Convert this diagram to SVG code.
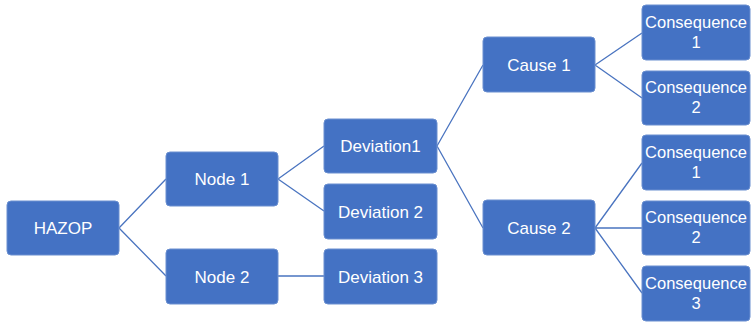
<svg xmlns="http://www.w3.org/2000/svg" width="752" height="322" viewBox="0 0 752 322">
<style>
.box{fill:#4472C4;stroke:#6a8fd0;stroke-width:1}
.t{font-family:"Liberation Sans",Arial,sans-serif;font-size:17px;fill:#fff;text-anchor:middle}
.s{font-size:16.5px}
.c{stroke:#4a74c0;stroke-width:1.3;fill:none}
</style>
<rect width="752" height="322" fill="#fff"/>
<g id="connectors">
<path class="c" d="M119,228 L166,179 M119,228 L166,276"/>
<path class="c" d="M278,179 L324,146 M278,179 L324,211 M278,276 L324,276"/>
<path class="c" d="M437,146 L483,65 M437,146 L483,228"/>
<path class="c" d="M595,65 L642,33 M595,65 L642,98"/>
<path class="c" d="M595,228 L642,163 M595,228 L642,228 M595,228 L642,293"/>
</g>
<g id="hazop"><rect class="box" x="7" y="201" width="112" height="54" rx="4"/><text class="t" x="63" y="234">HAZOP</text></g>
<g id="node1"><rect class="box" x="166" y="152" width="112" height="54" rx="4"/><text class="t" x="222" y="185">Node 1</text></g>
<g id="node2"><rect class="box" x="166" y="249" width="112" height="55" rx="4"/><text class="t" x="222" y="282.5">Node 2</text></g>
<g id="deviation1"><rect class="box" x="324" y="119" width="113" height="54" rx="4"/><text class="t" x="380.5" y="152">Deviation1</text></g>
<g id="deviation2"><rect class="box" x="324" y="184" width="113" height="55" rx="4"/><text class="t" x="380.5" y="217.5">Deviation 2</text></g>
<g id="deviation3"><rect class="box" x="324" y="249" width="113" height="55" rx="4"/><text class="t" x="380.5" y="282.5">Deviation 3</text></g>
<g id="cause1"><rect class="box" x="483" y="37" width="112" height="55" rx="4"/><text class="t" x="539" y="70.5">Cause 1</text></g>
<g id="cause2"><rect class="box" x="483" y="200" width="112" height="55" rx="4"/><text class="t" x="539" y="233.5">Cause 2</text></g>
<g id="c1a"><rect class="box" x="642" y="5" width="108" height="55" rx="4"/><text class="t s" x="696" y="28">Consequence</text><text class="t s" x="696" y="48">1</text></g>
<g id="c1b"><rect class="box" x="642" y="71" width="108" height="54" rx="4"/><text class="t s" x="696" y="93">Consequence</text><text class="t s" x="696" y="113">2</text></g>
<g id="c2a"><rect class="box" x="642" y="135" width="108" height="55" rx="4"/><text class="t s" x="696" y="158">Consequence</text><text class="t s" x="696" y="178">1</text></g>
<g id="c2b"><rect class="box" x="642" y="201" width="108" height="54" rx="4"/><text class="t s" x="696" y="223">Consequence</text><text class="t s" x="696" y="243">2</text></g>
<g id="c2c"><rect class="box" x="642" y="266" width="108" height="55" rx="4"/><text class="t s" x="696" y="289">Consequence</text><text class="t s" x="696" y="309">3</text></g>
</svg>
